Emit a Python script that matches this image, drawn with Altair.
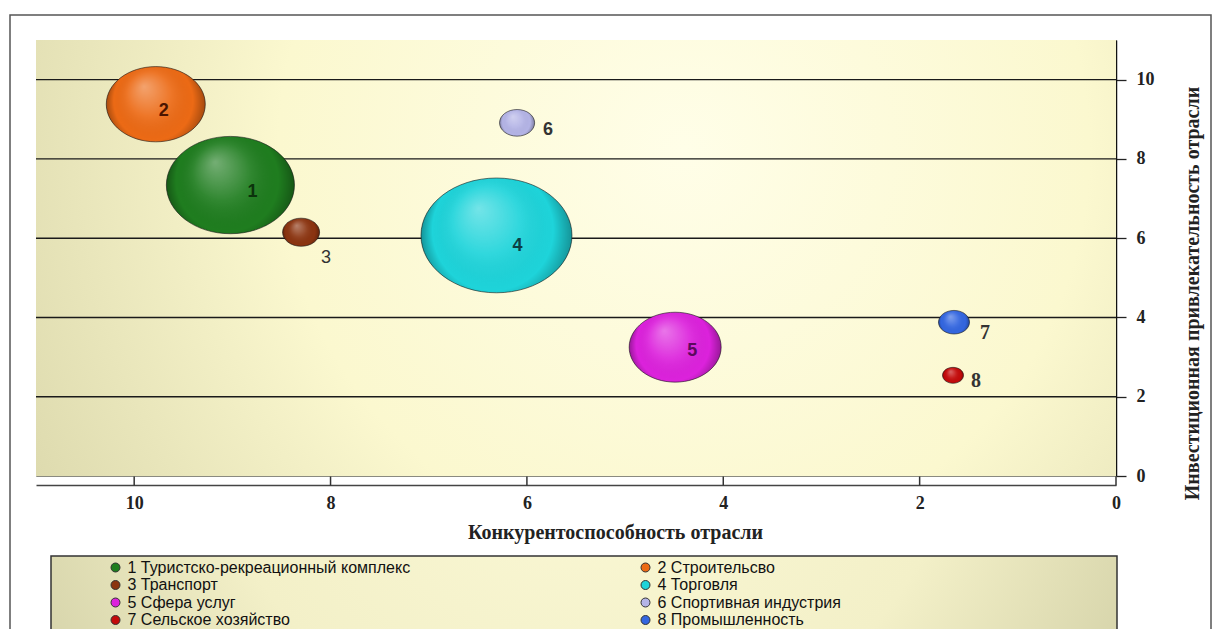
import altair as alt
import pandas as pd

# ---------------- data ----------------
categories = [
    "1 Туристско-рекреационный комплекс",
    "2 Строительсво",
    "3 Транспорт",
    "4 Торговля",
    "5 Сфера услуг",
    "6 Спортивная индустрия",
    "7 Сельское хозяйство",
    "8 Промышленность",
]
competitiveness = [9.02, 9.78, 8.30, 6.31, 4.49, 6.10, 1.66, 1.65]
attractiveness = [7.34, 9.38, 6.15, 6.07, 3.25, 8.91, 2.54, 3.88]
bubble_value = [16.4, 9.8, 1.37, 22.8, 8.46, 1.23, 0.44, 0.96]
point_labels = ["1", "2", "3", "4", "5", "6", "8", "7"]
x_ticks = [0, 2, 4, 6, 8, 10]
y_ticks = [0, 2, 4, 6, 8, 10]
grid_values = [2, 4, 6, 8, 10]
x_title = "Конкурентоспособность отрасли"
y_title = "Инвестиционная привлекательность отрасли"

# ---------------- styles ----------------
colors = ["#1f7d1f", "#ec6a15", "#8b3410", "#1ed4da", "#dc22dc", "#b4b4e6", "#c40a0a", "#3366e0"]
W, H = 1080, 436
ELL = "M-1,0A1,0.76,0,1,1,1,0A1,0.76,0,1,1,-1,0Z"

label_style = [
    dict(dx=22, dy=7, font="Liberation Sans", weight="bold", size=18, color="#0c330c"),
    dict(dx=8, dy=7, font="Liberation Sans", weight="bold", size=18, color="#4a1500"),
    dict(dx=25, dy=26, font="Liberation Sans", weight="normal", size=18, color="#333333"),
    dict(dx=21, dy=11, font="Liberation Sans", weight="bold", size=18, color="#0b3f44"),
    dict(dx=17, dy=4, font="Liberation Sans", weight="bold", size=18, color="#5c0a5c"),
    dict(dx=31, dy=7, font="Liberation Sans", weight="bold", size=18, color="#333333"),
    dict(dx=23, dy=6, font="Liberation Serif", weight="bold", size=20, color="#333333"),
    dict(dx=31, dy=11, font="Liberation Serif", weight="bold", size=20, color="#333333"),
]

bg_gradient = {
    "gradient": "radial", "x1": 0.6, "y1": 0.4, "r1": 0, "x2": 0.6, "y2": 0.4, "r2": 0.75,
    "stops": [
        {"offset": 0, "color": "#fffee8"},
        {"offset": 0.5, "color": "#fbf8cf"},
        {"offset": 1, "color": "#d6d3a6"},
    ],
}
legend_gradient = {
    "gradient": "radial", "x1": 0.5, "y1": 0.25, "r1": 0, "x2": 0.5, "y2": 0.25, "r2": 0.6,
    "stops": [
        {"offset": 0, "color": "#fcfad8"},
        {"offset": 0.6, "color": "#f3f0c8"},
        {"offset": 1, "color": "#d2d0a6"},
    ],
}
shade_gradient = {
    "gradient": "radial", "x1": 0.38, "y1": 0.32, "r1": 0, "x2": 0.5, "y2": 0.5, "r2": 0.5,
    "stops": [
        {"offset": 0, "color": "rgba(255,255,255,0.38)"},
        {"offset": 0.45, "color": "rgba(255,255,255,0.08)"},
        {"offset": 0.8, "color": "rgba(0,0,0,0)"},
        {"offset": 1, "color": "rgba(0,0,0,0.3)"},
    ],
}

df = pd.DataFrame({
    "cat": categories,
    "x": competitiveness,
    "y": attractiveness,
    "v": bubble_value,
    "lab": point_labels,
})

xscale = alt.Scale(domain=[0, 11], reverse=True, nice=False, zero=False)
yscale = alt.Scale(domain=[0, 11], nice=False, zero=False)
sscale = alt.Scale(domain=[0, max(bubble_value)], range=[0, 22801])

serif = "Liberation Serif"

x_axis = alt.Axis(
    values=x_ticks, format="d", title=x_title, titleFont=serif, titleFontSize=20,
    titleFontWeight="bold", titleColor="#222222", titleX=579, titlePadding=10,
    labelFont=serif, labelFontSize=18, labelFontWeight="bold", labelColor="#222222",
    labelPadding=9, labelFlush=False, ticks=False, domainColor="#444444", domainWidth=1.5,
    offset=9, grid=False,
)
y_axis = alt.Axis(
    orient="right", values=y_ticks, format="d", title=y_title, titleFont=serif,
    titleFontSize=20, titleFontWeight="bold", titleColor="#222222", titleAngle=270,
    titleX=76, titleY=253, titleAlign="center", titleBaseline="middle",
    labelFont=serif, labelFontSize=18, labelFontWeight="bold", labelColor="#222222",
    labelPadding=10, labelFlush=False, tickSize=10, tickColor="#222222", tickWidth=1.3,
    domainColor="#111111", domainWidth=1.5, grid=False,
)

X = alt.X("x:Q", scale=xscale, axis=x_axis)
Y = alt.Y("y:Q", scale=yscale, axis=y_axis)

one = alt.Data(values=[{}])

frame = alt.Chart(one).mark_rect(fill="transparent", stroke="#555555", strokeWidth=1.5).encode(
    x=alt.value(-26), x2=alt.value(1175), y=alt.value(-25), y2=alt.value(H + 260)
)
background = alt.Chart(one).mark_rect(fill=bg_gradient).encode(
    x=alt.value(0), x2=alt.value(W), y=alt.value(0), y2=alt.value(H)
)
legend_box = alt.Chart(one).mark_rect(fill=legend_gradient, stroke="#333333", strokeWidth=1.5).encode(
    x=alt.value(15), x2=alt.value(1081), y=alt.value(516), y2=alt.value(H + 250)
)
grid = alt.Chart(alt.Data(values=[{"y": v} for v in grid_values])).mark_rule(
    color="#1a1a1a", strokeWidth=1.4
).encode(y=Y)

xticks_layer = alt.Chart(alt.Data(values=[{"x": v} for v in x_ticks])).mark_rule(
    color="#333333", strokeWidth=1.5
).encode(x=X, y=alt.value(H + 0.5), y2=alt.value(H + 9.5))

bubbles = alt.Chart(df).mark_point(
    shape=ELL, filled=True, opacity=1, stroke="#1a1a1a", strokeWidth=1, strokeOpacity=0.6
).encode(
    x=X,
    y=Y,
    size=alt.Size("v:Q", scale=sscale, legend=None),
    color=alt.Color(
        "cat:N",
        scale=alt.Scale(domain=categories, range=colors),
        legend=alt.Legend(
            title=None, orient="none", direction="horizontal", legendX=71.5, legendY=519.5,
            columns=2, columnPadding=227, rowPadding=1.5, symbolType="circle", symbolSize=81,
            symbolStrokeColor="#333333", symbolStrokeWidth=1, symbolOpacity=1,
            labelFont="Liberation Sans", labelFontSize=16, labelColor="#111111",
            labelOffset=4, labelLimit=800, padding=0,
        ),
    ),
)

shade = alt.Chart(df).mark_point(
    shape=ELL, filled=True, opacity=1, fill=shade_gradient, strokeOpacity=0
).encode(
    x=X,
    y=Y,
    size=alt.Size("v:Q", scale=sscale, legend=None),
)

labels = []
for cat, st in zip(categories, label_style):
    labels.append(
        alt.Chart(df).transform_filter(alt.datum.cat == cat).mark_text(
            dx=st["dx"], dy=st["dy"], font=st["font"], fontWeight=st["weight"],
            fontSize=st["size"], color=st["color"], align="center", baseline="middle",
        ).encode(x=X, y=Y, text="lab:N")
    )

chart = alt.layer(
    frame, background, grid, legend_box, xticks_layer, bubbles, shade, *labels
).properties(
    width=W, height=H,
    autosize=alt.AutoSizeParams(type="none"),
    padding={"left": 28, "top": 32, "right": 97, "bottom": 153},
    background="white",
).configure_view(stroke="#8a8a80", strokeWidth=1)

chart.save("out.html", embed_options={"renderer": "svg", "actions": False})
